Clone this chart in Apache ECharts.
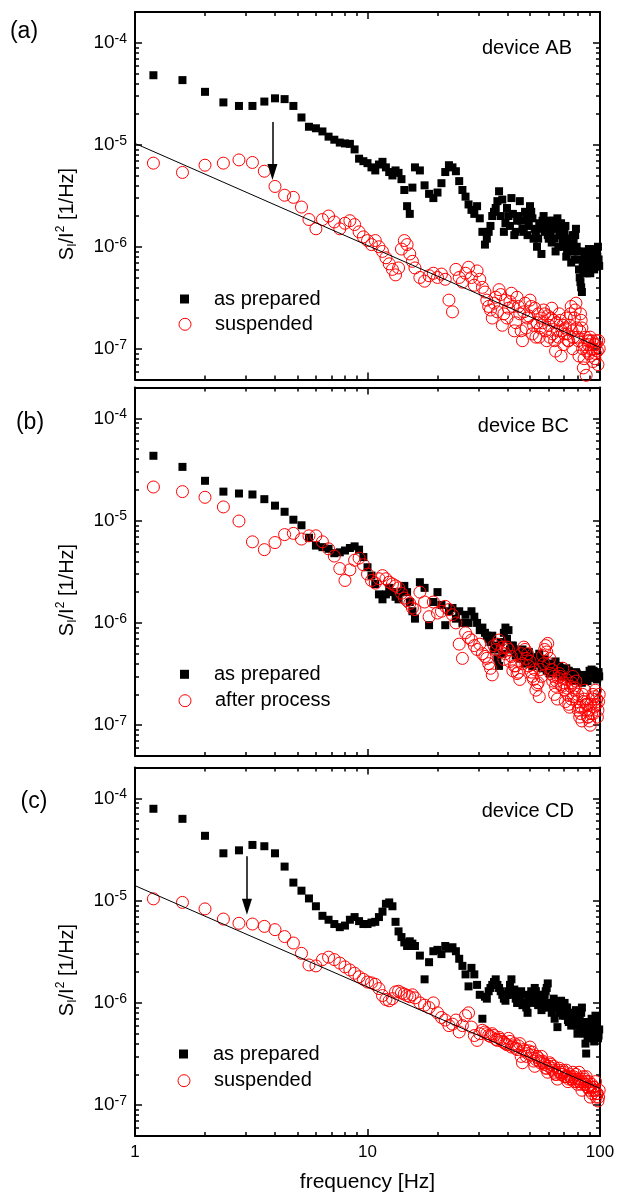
<!DOCTYPE html>
<html><head><meta charset="utf-8">
<script src="https://cdn.jsdelivr.net/npm/echarts@6/dist/echarts.min.js"></script>
<style>html,body{margin:0;padding:0;background:#fff}#c{width:618px;height:1193px}</style>
</head><body><div id="c"></div>
<script>
// ---------------- data ----------------
const freq = [1.2,1.6,2.0,2.4,2.8,3.2,3.6,4.0,4.4,4.8,5.2,5.6,6.0,6.4,6.8,7.2,7.6,8.0,8.4,8.8,9.2,9.6,10.0,10.4,10.8,11.2,11.6,12.0,12.4,12.8,13.2,13.6,14.0,14.4,14.8,15.2,15.6,16.0,
16.8,17.6,18.4,19.2,20.0,20.8,21.6,22.4,23.2,24.0,24.8,25.6,26.4,27.2,28.0,28.8,29.6,30.4,31.2,32.0,
33.2,34.4,35.6,36.8,38.0,39.2,40.4,41.6,42.8,44.0,45.2,46.4,47.6,48.8,50.0,51.2,52.4,53.6,54.8,56.0,57.2,58.4,59.6,60.8,62.0,63.2,64.4,65.6,66.8,68.0,69.2,70.4,71.6,72.8,74.0,75.2,76.4,77.6,78.8,80.0,81.2,82.4,83.6,84.8,86.0,87.2,88.4,89.6,90.8,92.0,93.2,94.4,95.6,96.8,98.0,99.2];
// extra (interleaved) high-frequency points
const freqHi = [32.6,33.8,35.0,36.2,37.4,38.6,39.8,41.0,42.2,43.4,44.6,45.8,47.0,48.2,49.4,50.6,51.8,53.0,54.2,55.4,56.6,57.8,59.0,60.2,61.4,62.6,63.8,65.0,66.2,67.4,68.6,69.8,71.0,72.2,73.4,74.6,75.8,77.0,78.2,79.4,80.6,81.8,83.0,84.2,85.4,86.6,87.8,89.0,90.2,91.4,92.6,93.8,95.0,96.2,97.4,98.6];

// panel (a) device AB
const asPreparedA = [4.8e-5,4.3e-5,3.3e-5,2.6e-5,2.4e-5,2.4e-5,2.65e-5,2.85e-5,2.8e-5,2.4e-5,
1.85e-5,1.5e-5,1.45e-5,1.35e-5,1.2e-5,1.12e-5,1.05e-5,1.03e-5,1.02e-5,9.0e-6,
7.3e-6,6.9e-6,6.6e-6,6.0e-6,5.6e-6,6.4e-6,6.8e-6,6.0e-6,5.4e-6,5.0e-6,
5.6e-6,5.3e-6,4.6e-6,3.6e-6,2.5e-6,2.1e-6,3.8e-6,6.0e-6,
5.6e-6,4.0e-6,3.3e-6,3.0e-6,3.4e-6,4.2e-6,5.4e-6,6.3e-6,6.0e-6,5.5e-6,
4.4e-6,3.6e-6,3.1e-6,2.6e-6,2.3e-6,2.1e-6,2.5e-6,1.9e-6,1.4e-6,1.05e-6,
1.4e-6,2.0e-6,2.4e-6,3.5e-6,2.9e-6,1.7e-6,2.0e-6,3.0e-6,1.3e-6,1.8e-6,
2.8e-6,1.5e-6,2.2e-6,1.3e-6,2.5e-6,1.9e-6,1.5e-6,1.0e-6,1.7e-6,8.5e-7,
2.0e-6,1.6e-6,1.3e-6,1.8e-6,1.1e-6,1.6e-6,9.0e-7,1.9e-6,1.3e-6,1.7e-6,
1.1e-6,1.4e-6,8.0e-7,1.2e-6,1.0e-6,7.0e-7,1.3e-6,7.5e-7,1.5e-6,9.0e-7,
6.0e-7,4.5e-7,3.6e-7,5.5e-7,8.0e-7,6.0e-7,7.5e-7,9.5e-7,5.5e-7,7.0e-7,
8.5e-7,6.0e-7,9.0e-7,7.5e-7,1.0e-6,6.5e-7];
const asPreparedAHi = [1.2e-6,1.6e-6,2.2e-6,2.8e-6,2.0e-6,1.4e-6,2.4e-6,1.6e-6,2.1e-6,1.4e-6,
2.0e-6,1.8e-6,1.4e-6,1.9e-6,1.6e-6,2.2e-6,1.2e-6,1.4e-6,1.2e-6,1.5e-6,
1.8e-6,1.4e-6,1.5e-6,1.2e-6,1.4e-6,1.8e-6,1.2e-6,1.5e-6,1.0e-6,1.3e-6,
1.5e-6,1.0e-6,1.6e-6,9.0e-7,1.1e-6,1.2e-6,9.0e-7,1.1e-6,1.3e-6,1.0e-6,
7.5e-7,5.0e-7,4.0e-7,7.0e-7,9.0e-7,7.0e-7,5.5e-7,8.5e-7,6.5e-7,9.0e-7,
6.5e-7,8.0e-7,7.0e-7,9.5e-7,8.0e-7,7.5e-7];
const suspendedA = [6.6e-6,5.35e-6,6.3e-6,6.6e-6,7.1e-6,6.7e-6,5.5e-6,3.9e-6,3.2e-6,3.05e-6,
2.45e-6,1.85e-6,1.5e-6,1.85e-6,2.0e-6,1.75e-6,1.5e-6,1.7e-6,1.8e-6,1.65e-6,
1.4e-6,1.25e-6,1.15e-6,1.05e-6,1.15e-6,1.0e-6,9.0e-7,7.8e-7,6.8e-7,6.0e-7,
5.3e-7,6.2e-7,9.5e-7,1.15e-6,1.05e-6,8.5e-7,7.2e-7,6.2e-7,
5.0e-7,4.6e-7,5.2e-7,5.5e-7,5.0e-7,5.4e-7,4.8e-7,3.0e-7,2.3e-7,6.0e-7,
5.0e-7,4.5e-7,5.5e-7,6.3e-7,5.0e-7,4.2e-7,5.8e-7,4.8e-7,4.0e-7,3.6e-7,
2.6e-7,2.0e-7,3.2e-7,3.8e-7,1.7e-7,3.0e-7,2.5e-7,3.5e-7,1.5e-7,3.2e-7,
2.2e-7,1.2e-7,2.8e-7,2.0e-7,3.0e-7,1.4e-7,2.5e-7,1.8e-7,1.3e-7,2.0e-7,
2.4e-7,1.5e-7,2.1e-7,1.3e-7,2.5e-7,1.9e-7,9.5e-8,1.5e-7,2.2e-7,8.5e-8,
1.7e-7,1.4e-7,2.0e-7,1.2e-7,1.7e-7,2.6e-7,1.0e-7,2.0e-7,2.8e-7,1.3e-7,
8.5e-8,2.2e-7,1.6e-7,6.5e-8,1.1e-7,5.5e-8,1.2e-7,9.0e-8,1.3e-7,1.0e-7,
7.5e-8,1.1e-7,9.0e-8,1.2e-7,7.0e-8,1.0e-7];
const suspendedAHi = [3.0e-7,2.4e-7,2.8e-7,2.3e-7,3.4e-7,2.2e-7,2.0e-7,2.9e-7,2.6e-7,1.8e-7,
2.6e-7,1.5e-7,2.3e-7,1.6e-7,2.1e-7,2.6e-7,1.7e-7,1.3e-7,2.2e-7,1.6e-7,
1.8e-7,2.2e-7,1.2e-7,1.7e-7,2.0e-7,1.4e-7,1.2e-7,1.8e-7,1.3e-7,1.9e-7,
1.5e-7,1.1e-7,1.6e-7,1.4e-7,1.2e-7,2.2e-7,1.5e-7,1.3e-7,2.4e-7,1.6e-7,
1.2e-7,1.5e-7,1.9e-7,1.0e-7,8.0e-8,1.3e-7,9.5e-8,1.1e-7,1.2e-7,8.5e-8,
1.2e-7,1.0e-7,8.0e-8,1.1e-7,9.5e-8,1.2e-7];

// panel (b) device BC
const asPreparedB = [4.3e-5,3.35e-5,2.45e-5,1.92e-5,1.84e-5,1.8e-5,1.62e-5,1.4e-5,1.22e-5,1.02e-5,
9.0e-6,6.8e-6,5.7e-6,5.5e-6,5.3e-6,4.8e-6,4.9e-6,5.1e-6,5.4e-6,5.6e-6,
5.2e-6,4.4e-6,3.5e-6,2.9e-6,2.4e-6,1.9e-6,1.7e-6,1.9e-6,2.2e-6,2.0e-6,
1.8e-6,1.7e-6,2.0e-6,2.3e-6,2.0e-6,1.6e-6,1.3e-6,1.1e-6,
2.5e-6,2.2e-6,9.5e-7,1.6e-6,2.0e-6,1.5e-6,9.5e-7,1.3e-6,1.4e-6,1.1e-6,
1.3e-6,1.0e-6,1.2e-6,1.0e-6,1.3e-6,1.15e-6,1.0e-6,8.5e-7,9.0e-7,8.0e-7,
7.0e-7,7.5e-7,6.0e-7,3.8e-7,5.0e-7,9.0e-7,8.5e-7,6.0e-7,5.5e-7,5.0e-7,
4.5e-7,5.5e-7,4.0e-7,5.0e-7,4.5e-7,3.8e-7,4.6e-7,4.2e-7,5.0e-7,3.6e-7,
4.2e-7,4.0e-7,3.5e-7,3.2e-7,4.0e-7,3.6e-7,4.2e-7,3.3e-7,3.8e-7,3.0e-7,
3.5e-7,3.2e-7,3.6e-7,3.4e-7,2.8e-7,3.2e-7,3.0e-7,2.7e-7,3.3e-7,3.0e-7,
2.8e-7,3.0e-7,2.6e-7,2.9e-7,2.8e-7,3.0e-7,2.7e-7,3.0e-7,3.3e-7,3.5e-7,
3.0e-7,3.3e-7,3.0e-7,2.8e-7,3.2e-7,3.0e-7];
const asPreparedBHi = [7.5e-7,6.5e-7,5.5e-7,4.5e-7,6.5e-7,8.0e-7,7.0e-7,5.5e-7,6.0e-7,4.8e-7,
5.0e-7,4.5e-7,4.8e-7,4.2e-7,5.2e-7,4.0e-7,4.4e-7,4.6e-7,4.0e-7,4.2e-7,
3.8e-7,4.4e-7,3.4e-7,3.8e-7,3.5e-7,3.9e-7,3.4e-7,3.7e-7,3.2e-7,3.6e-7,
3.3e-7,3.5e-7,3.0e-7,3.2e-7,3.4e-7,2.9e-7,3.1e-7,2.8e-7,3.0e-7,3.2e-7,
2.9e-7,2.7e-7,3.1e-7,2.8e-7,3.0e-7,2.7e-7,2.9e-7,3.1e-7,3.4e-7,3.2e-7,
2.9e-7,3.4e-7,3.1e-7,3.0e-7,2.9e-7,3.3e-7];
const afterProcessB = [2.13e-5,1.92e-5,1.69e-5,1.36e-5,9.9e-6,6.2e-6,5.2e-6,6.1e-6,7.3e-6,7.5e-6,
6.6e-6,7.1e-6,7.1e-6,6.2e-6,5.3e-6,4.5e-6,3.4e-6,2.6e-6,3.3e-6,4.1e-6,
4.3e-6,3.7e-6,3.0e-6,2.6e-6,2.45e-6,2.7e-6,2.9e-6,2.7e-6,2.5e-6,2.4e-6,
2.3e-6,2.2e-6,1.95e-6,1.75e-6,1.65e-6,1.55e-6,1.4e-6,1.35e-6,
2.0e-6,1.6e-6,1.15e-6,1.6e-6,1.25e-6,1.3e-6,1.45e-6,1.35e-6,1.2e-6,1.0e-6,
6.2e-7,4.5e-7,8.0e-7,7.2e-7,6.8e-7,6.0e-7,5.5e-7,6.2e-7,5.0e-7,4.7e-7,
4.0e-7,3.1e-7,5.5e-7,6.8e-7,5.8e-7,5.0e-7,5.5e-7,4.7e-7,3.8e-7,3.2e-7,
2.8e-7,4.0e-7,5.5e-7,5.0e-7,4.2e-7,3.0e-7,3.5e-7,2.5e-7,1.9e-7,3.0e-7,
4.0e-7,6.0e-7,6.3e-7,4.5e-7,3.5e-7,3.0e-7,2.4e-7,1.8e-7,3.2e-7,2.5e-7,
3.6e-7,2.2e-7,2.8e-7,2.0e-7,1.5e-7,1.8e-7,3.0e-7,2.2e-7,2.7e-7,2.0e-7,
1.5e-7,1.3e-7,1.1e-7,1.7e-7,2.2e-7,1.6e-7,1.2e-7,1.4e-7,1.0e-7,1.3e-7,
2.0e-7,1.5e-7,2.2e-7,1.8e-7,1.4e-7,2.0e-7];
const afterProcessBHi = [4.5e-7,3.6e-7,6.0e-7,6.2e-7,5.2e-7,4.4e-7,5.8e-7,4.2e-7,3.4e-7,3.8e-7,
3.3e-7,5.0e-7,5.8e-7,4.5e-7,3.8e-7,3.3e-7,2.8e-7,2.2e-7,2.6e-7,3.5e-7,
4.8e-7,5.5e-7,5.2e-7,4.0e-7,3.2e-7,2.7e-7,2.0e-7,2.7e-7,2.9e-7,3.0e-7,
2.4e-7,2.6e-7,1.7e-7,2.3e-7,1.6e-7,2.4e-7,2.6e-7,1.9e-7,2.3e-7,1.7e-7,
1.4e-7,1.2e-7,1.5e-7,2.0e-7,1.8e-7,1.4e-7,1.6e-7,1.2e-7,1.1e-7,1.6e-7,
1.8e-7,1.3e-7,1.9e-7,1.6e-7,1.2e-7,1.7e-7];

// panel (c) device CD
const asPreparedC = [7.9e-5,6.3e-5,4.3e-5,2.9e-5,3.1e-5,3.5e-5,3.4e-5,2.9e-5,2.15e-5,1.5e-5,
1.25e-5,1.05e-5,8.8e-6,7.1e-6,6.5e-6,5.9e-6,5.5e-6,5.7e-6,6.5e-6,6.9e-6,
6.3e-6,5.9e-6,5.9e-6,6.1e-6,6.2e-6,6.9e-6,7.8e-6,9.3e-6,9.6e-6,8.8e-6,
6.2e-6,5.0e-6,4.4e-6,3.9e-6,3.6e-6,4.0e-6,3.8e-6,3.6e-6,
2.9e-6,1.7e-6,2.5e-6,3.2e-6,3.3e-6,3.0e-6,3.6e-6,3.4e-6,3.5e-6,3.2e-6,
2.7e-6,2.3e-6,1.9e-6,1.45e-6,2.2e-6,1.9e-6,1.5e-6,1.2e-6,7.0e-7,1.15e-6,
1.3e-6,1.5e-6,1.7e-6,1.4e-6,1.2e-6,1.05e-6,1.3e-6,1.7e-6,1.35e-6,1.0e-6,
1.15e-6,9.5e-7,1.2e-6,8.0e-7,1.0e-6,1.2e-6,1.4e-6,1.0e-6,1.2e-6,8.5e-7,
1.05e-6,1.3e-6,1.55e-6,1.0e-6,8.0e-7,1.1e-6,9.5e-7,5.8e-7,8.0e-7,1.05e-6,
7.5e-7,1.0e-6,9.0e-7,6.8e-7,8.0e-7,6.0e-7,7.5e-7,6.2e-7,8.5e-7,5.0e-7,
7.0e-7,5.5e-7,9.0e-7,6.5e-7,5.0e-7,3.2e-7,4.5e-7,6.0e-7,5.0e-7,7.0e-7,
5.5e-7,4.2e-7,7.5e-7,6.0e-7,4.5e-7,5.5e-7];
const asPreparedCHi = [1.1e-6,1.4e-6,1.6e-6,1.5e-6,1.3e-6,1.1e-6,1.2e-6,1.5e-6,1.2e-6,1.1e-6,
1.0e-6,1.3e-6,1.0e-6,9.0e-7,1.1e-6,1.3e-6,1.1e-6,1.3e-6,9.5e-7,1.1e-6,
9.0e-7,1.2e-6,1.4e-6,9.0e-7,1.0e-6,9.5e-7,7.0e-7,9.0e-7,9.5e-7,8.0e-7,
9.0e-7,8.5e-7,7.5e-7,9.0e-7,6.5e-7,7.0e-7,6.8e-7,8.0e-7,7.0e-7,6.0e-7,
6.0e-7,7.5e-7,8.0e-7,5.5e-7,6.0e-7,4.0e-7,5.5e-7,5.0e-7,6.5e-7,6.0e-7,
4.8e-7,6.5e-7,5.0e-7,7.0e-7,5.2e-7,4.8e-7];
const suspendedC = [1.04e-5,9.6e-6,8.3e-6,6.6e-6,6.0e-6,5.9e-6,5.6e-6,5.2e-6,4.45e-6,3.85e-6,
3.05e-6,2.35e-6,2.3e-6,2.65e-6,2.8e-6,2.65e-6,2.45e-6,2.25e-6,2.1e-6,1.95e-6,
1.8e-6,1.7e-6,1.6e-6,1.57e-6,1.52e-6,1.38e-6,1.18e-6,1.08e-6,1.05e-6,1.1e-6,
1.28e-6,1.3e-6,1.25e-6,1.22e-6,1.18e-6,1.15e-6,1.2e-6,1.12e-6,
1.0e-6,9.5e-7,9.0e-7,1.0e-6,8.0e-7,7.2e-7,6.8e-7,6.0e-7,6.2e-7,6.8e-7,
5.2e-7,6.0e-7,7.5e-7,8.0e-7,5.8e-7,4.8e-7,4.3e-7,5.0e-7,5.4e-7,5.2e-7,
4.8e-7,5.0e-7,4.4e-7,4.6e-7,4.2e-7,4.0e-7,4.5e-7,3.7e-7,4.0e-7,3.5e-7,
4.0e-7,2.6e-7,3.4e-7,3.2e-7,3.7e-7,3.3e-7,2.4e-7,3.0e-7,2.7e-7,3.0e-7,
2.6e-7,2.3e-7,2.1e-7,2.6e-7,2.3e-7,2.4e-7,2.0e-7,1.8e-7,2.3e-7,2.0e-7,
2.2e-7,1.9e-7,2.2e-7,1.7e-7,2.0e-7,1.8e-7,2.1e-7,1.7e-7,2.0e-7,1.6e-7,
2.1e-7,1.8e-7,1.4e-7,1.9e-7,1.6e-7,1.9e-7,1.5e-7,1.7e-7,1.2e-7,1.6e-7,
1.4e-7,1.5e-7,1.7e-7,1.3e-7,1.1e-7,1.4e-7];
const suspendedCHi = [5.0e-7,4.7e-7,4.8e-7,4.3e-7,4.4e-7,4.1e-7,3.9e-7,4.2e-7,3.8e-7,3.6e-7,
3.8e-7,3.0e-7,3.5e-7,3.0e-7,3.4e-7,3.1e-7,2.7e-7,2.8e-7,2.9e-7,2.6e-7,
2.7e-7,2.5e-7,2.3e-7,2.4e-7,2.5e-7,2.2e-7,2.1e-7,2.0e-7,2.2e-7,2.1e-7,
2.0e-7,2.1e-7,1.9e-7,1.9e-7,1.8e-7,1.9e-7,1.8e-7,1.9e-7,1.8e-7,1.7e-7,
1.8e-7,1.7e-7,1.6e-7,1.7e-7,1.8e-7,1.6e-7,1.7e-7,1.5e-7,1.4e-7,1.5e-7,
1.3e-7,1.5e-7,1.4e-7,1.2e-7,1.3e-7,1.2e-7];

// 1/f guide lines and arrows [freq, yStart, yEnd]
const fitA = [[1, 1.03e-5], [100, 1.03e-7]];
const fitC = [[1, 1.4e-5], [100, 1.46e-7]];
const arrowA = [3.9, 1.67e-5, 5.4e-6];
const arrowC = [3.03, 2.72e-5, 8.7e-6];

// ticks / labels
const xMajorTicks = [1, 10, 100];
const xMinorTicks = [2,3,4,5,6,7,8,9,20,30,40,50,60,70,80,90];
const yMajorTicks = [1e-7, 1e-6, 1e-5, 1e-4];
const yMinorTicks = [6e-8,7e-8,8e-8,9e-8,2e-7,3e-7,4e-7,5e-7,6e-7,7e-7,8e-7,9e-7,
  2e-6,3e-6,4e-6,5e-6,6e-6,7e-6,8e-6,9e-6,2e-5,3e-5,4e-5,5e-5,6e-5,7e-5,8e-5,9e-5];
const panelLabels = ['(a)', '(b)', '(c)'];
const deviceLabels = ['device AB', 'device BC', 'device CD'];
const blackNames = ['as prepared', 'as prepared', 'as prepared'];
const redNames = ['suspended', 'after process', 'suspended'];
const xName = 'frequency [Hz]';

// ---------------- layout ----------------
const FONT = "'Liberation Sans', Arial, Helvetica, sans-serif";
const grids = [
  {left: 135, top: 12, width: 465, height: 367.5},
  {left: 135, top: 387.5, width: 465, height: 368.5},
  {left: 135, top: 767.5, width: 465, height: 368.5}
];
const blackData = [[asPreparedA, asPreparedAHi], [asPreparedB, asPreparedBHi], [asPreparedC, asPreparedCHi]];
const redData = [[suspendedA, suspendedAHi], [afterProcessB, afterProcessBHi], [suspendedC, suspendedCHi]];
const pair = (fs, ys) => fs.map((f, i) => [f, ys[i]]);
const combine = d => pair(freq, d[0]).concat(pair(freqHi, d[1]));

const xAxes = [], yAxes = [], series = [], legends = [], graphics = [];

function mkX(i, pos, major, showLabel) {
  return {
    type: 'log', logBase: 10, gridIndex: i, position: pos, min: 1, max: 100,
    axisLine: {show: major, onZero: false, lineStyle: {color: '#000', width: 2}},
    axisTick: {show: true, inside: true, length: major ? 7 : 4,
      lineStyle: {color: '#000', width: 1.5}, customValues: major ? xMajorTicks : xMinorTicks},
    axisLabel: {show: showLabel, customValues: xMajorTicks, formatter: v => String(Math.round(v)),
      color: '#000', fontSize: 17, fontFamily: FONT, margin: 8},
    splitLine: {show: false}, minorTick: {show: false}, minorSplitLine: {show: false},
    name: showLabel ? xName : '', nameLocation: 'middle', nameGap: 36,
    nameTextStyle: {color: '#000', fontSize: 21, fontFamily: FONT}
  };
}
function mkY(i, pos, major, showLabel) {
  return {
    type: 'log', logBase: 10, gridIndex: i, position: pos, min: 5e-8, max: 2e-4,
    axisLine: {show: major, onZero: false, lineStyle: {color: '#000', width: 2}},
    axisTick: {show: true, inside: true, length: major ? 7 : 4,
      lineStyle: {color: '#000', width: 1.5}, customValues: major ? yMajorTicks : yMinorTicks},
    axisLabel: {show: showLabel, customValues: yMajorTicks, margin: 8,
      formatter: v => '{b|10}{s|' + Math.round(Math.log10(v)) + '}',
      rich: {
        b: {fontSize: 19, fontFamily: FONT, color: '#000', lineHeight: 22},
        s: {fontSize: 14, fontFamily: FONT, color: '#000', lineHeight: 14, verticalAlign: 'top'}
      }},
    splitLine: {show: false}, minorTick: {show: false}, minorSplitLine: {show: false}
  };
}

const yNameCenters = [214, 590, 970];
const panelLabelPos = [[24, 32], [30, 422.5], [34, 802]];
const devicePos = [[572, 48], [569, 426], [574, 811]];
const legendCenters = [[184.5, 299, 324.3], [184.5, 674.3, 700.7], [183.5, 1054, 1080.7]];
const ARROW = 'path://M5,0L10,16L0,16Z';

for (let i = 0; i < 3; i++) {
  xAxes.push(mkX(i, 'bottom', true, i === 2), mkX(i, 'bottom', false, false),
             mkX(i, 'top', true, false), mkX(i, 'top', false, false));
  yAxes.push(mkY(i, 'left', true, true), mkY(i, 'left', false, false),
             mkY(i, 'right', true, false), mkY(i, 'right', false, false));
  const xi = i * 4, yi = i * 4;
  series.push({
    type: 'scatter', name: blackNames[i], xAxisIndex: xi, yAxisIndex: yi,
    data: combine(blackData[i]), symbol: 'rect', symbolSize: 8,
    itemStyle: {color: '#000', opacity: 1}, z: 2, silent: true
  });
  series.push({
    type: 'scatter', name: redNames[i], xAxisIndex: xi, yAxisIndex: yi,
    data: combine(redData[i]), symbol: 'circle', symbolSize: 12,
    itemStyle: {color: 'rgba(0,0,0,0)', borderColor: '#ff0000', borderWidth: 1, opacity: 1}, z: 3, silent: true
  });
  if (i !== 1) {
    const fit = i === 0 ? fitA : fitC;
    const ar = i === 0 ? arrowA : arrowC;
    series.push({
      type: 'line', xAxisIndex: xi, yAxisIndex: yi, data: fit, symbol: 'none', silent: true,
      lineStyle: {color: '#000', width: 1}, z: 4,
      markLine: {
        silent: true, symbol: ['none', ARROW], symbolSize: 16, symbolKeepAspect: true,
        label: {show: false}, lineStyle: {color: '#000', width: 1.5, type: 'solid', opacity: 1},
        itemStyle: {color: '#000'},
        emphasis: {disabled: true},
        data: [[{coord: [ar[0], ar[1]], symbol: 'none'},
                {coord: [ar[0], ar[2]], symbol: ARROW, symbolSize: 16, symbolKeepAspect: true}]]
      }
    });
  }
  const lc = legendCenters[i];
  legends.push({
    show: true, selectedMode: false, orient: 'vertical', padding: 0,
    left: lc[0] - 4.5, top: lc[1] - 10, itemWidth: 9, itemHeight: 9,
    data: [{name: blackNames[i], icon: 'rect', itemStyle: {color: '#000', borderWidth: 0, opacity: 1}}],
    textStyle: {fontSize: 20, fontFamily: FONT, color: '#000', lineHeight: 20, padding: [0, 0, 0, 20]}
  });
  legends.push({
    show: true, selectedMode: false, orient: 'vertical', padding: 0,
    left: lc[0] - 6, top: lc[2] - 10, itemWidth: 12, itemHeight: 12,
    data: [{name: redNames[i], icon: 'circle',
      itemStyle: {color: 'rgba(0,0,0,0)', borderColor: '#ff0000', borderWidth: 1, opacity: 1}}],
    textStyle: {fontSize: 20, fontFamily: FONT, color: '#000', lineHeight: 20, padding: [0, 0, 0, 19]}
  });
  graphics.push({
    type: 'text', x: panelLabelPos[i][0], y: panelLabelPos[i][1], silent: true,
    style: {text: panelLabels[i], fontSize: 23, fontFamily: FONT, fill: '#000',
      align: 'center', verticalAlign: 'middle', textAlign: 'center', textVerticalAlign: 'middle'}
  });
  graphics.push({
    type: 'text', x: devicePos[i][0], y: devicePos[i][1], silent: true,
    style: {text: deviceLabels[i], fontSize: 20, fontFamily: FONT, fill: '#000',
      align: 'right', verticalAlign: 'middle', textAlign: 'right', textVerticalAlign: 'middle'}
  });
  graphics.push({
    type: 'text', x: 67, y: yNameCenters[i], rotation: Math.PI / 2, silent: true,
    style: {
      text: '{n|S}{sub|I}{n|/I}{sup|2}{n| [1/Hz]}',
      align: 'center', verticalAlign: 'middle', textAlign: 'center', textVerticalAlign: 'middle',
      fill: '#000', fontSize: 20, fontFamily: FONT,
      rich: {
        n: {fontSize: 20, fontFamily: FONT, fill: '#000', color: '#000', lineHeight: 24},
        sub: {fontSize: 12, fontFamily: FONT, fill: '#000', color: '#000', lineHeight: 12, verticalAlign: 'bottom'},
        sup: {fontSize: 12, fontFamily: FONT, fill: '#000', color: '#000', lineHeight: 12, verticalAlign: 'top'}
      }
    }
  });
}

const chart = echarts.init(document.getElementById('c'), null, {renderer: 'canvas'});
chart.setOption({
  animation: false,
  backgroundColor: '#fff',
  textStyle: {fontFamily: FONT},
  grid: grids.map(g => Object.assign({containLabel: false, outerBoundsMode: 'none'}, g)),
  xAxis: xAxes,
  yAxis: yAxes,
  legend: legends,
  series: series,
  graphic: graphics
});
</script>
</body></html>
